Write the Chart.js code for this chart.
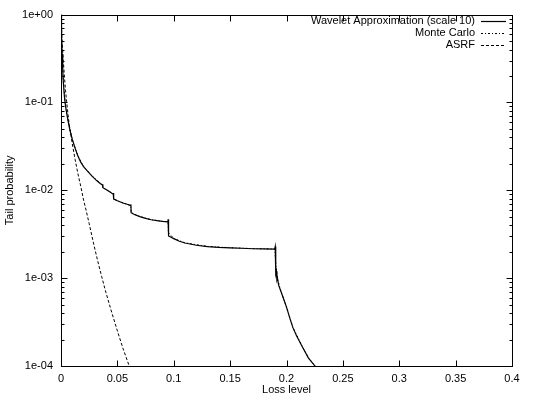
<!DOCTYPE html>
<html><head><meta charset="utf-8">
<script src="https://cdn.jsdelivr.net/npm/chart.js@4/dist/chart.umd.min.js"></script>
<style>html,body{margin:0;padding:0;background:#fff}</style>
</head><body>
<canvas id="c" width="559" height="400"></canvas>
<script>
// ---- data ----
const xTickValues = [0, 0.05, 0.1, 0.15, 0.2, 0.25, 0.3, 0.35, 0.4];
const yTickValues = [0.0001, 0.001, 0.01, 0.1, 1];
const yTickLabels = ['1e-04', '1e-03', '1e-02', '1e-01', '1e+00'];
const xTitle = 'Loss level';
const yTitle = 'Tail probability';
const seriesNames = ['Wavelet Approximation (scale 10)', 'Monte Carlo', 'ASRF'];

const waveletX = [0, 0.0005, 0.001, 0.0015, 0.002, 0.003, 0.004, 0.005, 0.006, 0.007, 0.0082, 0.01, 0.0125, 0.015, 0.0175, 0.02, 0.0233, 0.0275, 0.0316, 0.035, 0.0368, 0.037, 0.0372, 0.040, 0.0435, 0.0464, 0.0466, 0.0468, 0.050, 0.055, 0.060, 0.0618, 0.062, 0.0622, 0.065, 0.07, 0.075, 0.08, 0.085, 0.09, 0.0948, 0.095, 0.0952, 0.0956, 0.1, 0.105, 0.11, 0.12, 0.13, 0.14, 0.15, 0.16, 0.17, 0.18, 0.1895, 0.19, 0.1903, 0.1906, 0.191, 0.1915, 0.192, 0.193, 0.195, 0.197, 0.2, 0.2028, 0.2056, 0.209, 0.214, 0.2195, 0.2253, 0.228];
const waveletY = [1, 0.562, 0.355, 0.240, 0.174, 0.1175, 0.0912, 0.0759, 0.0646, 0.0550, 0.0468, 0.0380, 0.0302, 0.0245, 0.0209, 0.0186, 0.0166, 0.0145, 0.0129, 0.0119, 0.0115, 0.0117, 0.0107, 0.0102, 0.00955, 0.00902, 0.00933, 0.00794, 0.00759, 0.00716, 0.00684, 0.00668, 0.00692, 0.00556, 0.00531, 0.00501, 0.00479, 0.00462, 0.00452, 0.00442, 0.00437, 0.00468, 0.00331, 0.00302, 0.00282, 0.00263, 0.00251, 0.00237, 0.00229, 0.00224, 0.00221, 0.00219, 0.00216, 0.00215, 0.00214, 0.00229, 0.00158, 0.00112, 0.00120, 0.000955, 0.001, 0.000832, 0.000708, 0.000603, 0.000468, 0.000355, 0.000275, 0.000219, 0.000166, 0.000123, 0.0001, 0.000087];

const monteCarloX = [0, 0.0008, 0.002, 0.004, 0.006, 0.01, 0.015, 0.02, 0.0275, 0.035, 0.0369, 0.0372, 0.0435, 0.0465, 0.0468, 0.055, 0.0619, 0.0622, 0.07, 0.08, 0.09, 0.0949, 0.0953, 0.1, 0.11, 0.13, 0.15, 0.17, 0.1897, 0.1904, 0.192, 0.195, 0.2, 0.2056, 0.214, 0.2195, 0.2253, 0.228];
const monteCarloY = [1, 0.40, 0.178, 0.0905, 0.0650, 0.0378, 0.0246, 0.0187, 0.0146, 0.0120, 0.0115, 0.0107, 0.00958, 0.00905, 0.00795, 0.00718, 0.00670, 0.00557, 0.00502, 0.00463, 0.00443, 0.00438, 0.00330, 0.00283, 0.00252, 0.00230, 0.00222, 0.00217, 0.00214, 0.00150, 0.00098, 0.00071, 0.00047, 0.000276, 0.000167, 0.000124, 0.0001, 0.000088];

const asrfX = [0, 0.001, 0.002, 0.003, 0.004, 0.005, 0.006, 0.007, 0.008, 0.010, 0.0125, 0.015, 0.0178, 0.020, 0.0225, 0.025, 0.0288, 0.0325, 0.036, 0.0398, 0.045, 0.050, 0.055, 0.0605, 0.065];
const asrfY = [1, 0.501, 0.302, 0.1995, 0.138, 0.102, 0.0776, 0.0603, 0.049, 0.0339, 0.0224, 0.0155, 0.0107, 0.00776, 0.00575, 0.00417, 0.00251, 0.00158, 0.00105, 0.00069, 0.000407, 0.000251, 0.000158, 0.0001, 0.000068];

// ---- chart ----
const FONT = 'Liberation Sans, Arial, Helvetica, sans-serif';
const pts = (xs, ys) => xs.map((x, i) => ({x: x, y: ys[i]}));

const frame = {
  id: 'frame',
  afterDraw(chart) {
    const ctx = chart.ctx, a = chart.chartArea;
    const xs = chart.scales.x, ys = chart.scales.y;
    ctx.save();
    ctx.strokeStyle = '#000';
    ctx.lineWidth = 1;
    ctx.setLineDash([]);
    const L = Math.round(a.left) + 0.5, R = Math.round(a.right) + 0.5;
    const T = Math.round(a.top) + 0.5, B = Math.round(a.bottom) + 0.5;
    ctx.strokeRect(L, T, R - L, B - T);
    ctx.beginPath();
    xTickValues.forEach(v => {
      const p = Math.round(xs.getPixelForValue(v)) + 0.5;
      ctx.moveTo(p, B); ctx.lineTo(p, B - 6);
      ctx.moveTo(p, T); ctx.lineTo(p, T + 6);
    });
    yTickValues.forEach((v, i) => {
      const p = Math.round(ys.getPixelForValue(v)) + 0.5;
      ctx.moveTo(L, p); ctx.lineTo(L + 6, p);
      ctx.moveTo(R, p); ctx.lineTo(R - 6, p);
      if (i < yTickValues.length - 1) {
        for (let m = 2; m <= 9; m++) {
          const q = Math.round(ys.getPixelForValue(v * m)) + 0.5;
          ctx.moveTo(L, q); ctx.lineTo(L + 3, q);
          ctx.moveTo(R, q); ctx.lineTo(R - 3, q);
        }
      }
    });
    ctx.stroke();
    ctx.fillStyle = '#000';
    ctx.font = '11px ' + FONT;
    ctx.textAlign = 'center';
    ctx.textBaseline = 'middle';
    ctx.fillText(xTitle, (a.left + a.right) / 2, 390);
    ctx.save();
    ctx.translate(10, (a.top + a.bottom) / 2);
    ctx.rotate(-Math.PI / 2);
    ctx.fillText(yTitle, 0, 0);
    ctx.restore();
    const textRight = 475, lineL = 481, lineR = 506;
    const rowY = [21, 33, 45];
    chart.data.datasets.forEach((ds, i) => {
      ctx.textAlign = 'right';
      ctx.fillStyle = '#000';
      ctx.fillText(ds.label, textRight, rowY[i]);
      ctx.beginPath();
      ctx.setLineDash(ds.borderDash || []);
      ctx.lineWidth = ds.borderWidth;
      ctx.moveTo(lineL, rowY[i] + 0.5); ctx.lineTo(lineR, rowY[i] + 0.5);
      ctx.stroke();
    });
    ctx.restore();
  }
};

new Chart(document.getElementById('c'), {
  type: 'line',
  data: {
    datasets: [
      {label: seriesNames[0], data: pts(waveletX, waveletY), borderColor: '#000', borderWidth: 1.2, borderDash: [], pointRadius: 0, tension: 0, fill: false},
      {label: seriesNames[1], data: pts(monteCarloX, monteCarloY), borderColor: '#000', borderWidth: 1, borderDash: [2, 2, 1, 2], pointRadius: 0, tension: 0, fill: false},
      {label: seriesNames[2], data: pts(asrfX, asrfY), borderColor: '#000', borderWidth: 1, borderDash: [3, 2], pointRadius: 0, tension: 0, fill: false}
    ]
  },
  options: {
    responsive: false,
    animation: false,
    devicePixelRatio: 1,
    layout: {padding: {left: 0, right: 47, top: 13, bottom: 0}},
    plugins: {legend: {display: false}, tooltip: {enabled: false}},
    scales: {
      x: {
        type: 'linear', min: 0, max: 0.4,
        grid: {display: false, drawTicks: false},
        border: {display: false},
        ticks: {color: '#000', font: {family: FONT, size: 11}, padding: 6, autoSkip: false, maxRotation: 0,
          callback: (v) => String(v)},
        afterBuildTicks: s => { s.ticks = xTickValues.map(v => ({value: v})); },
        afterFit: s => { s.height = 34; }
      },
      y: {
        type: 'logarithmic', min: 0.0001, max: 1,
        grid: {display: false, drawTicks: false},
        border: {display: false},
        ticks: {color: '#000', font: {family: FONT, size: 11}, padding: 8, autoSkip: false,
          callback: (v, i) => yTickLabels[i]},
        afterBuildTicks: s => { s.ticks = yTickValues.map(v => ({value: v})); },
        afterFit: s => { s.width = 61; }
      }
    }
  },
  plugins: [frame]
});
</script>
</body></html>
